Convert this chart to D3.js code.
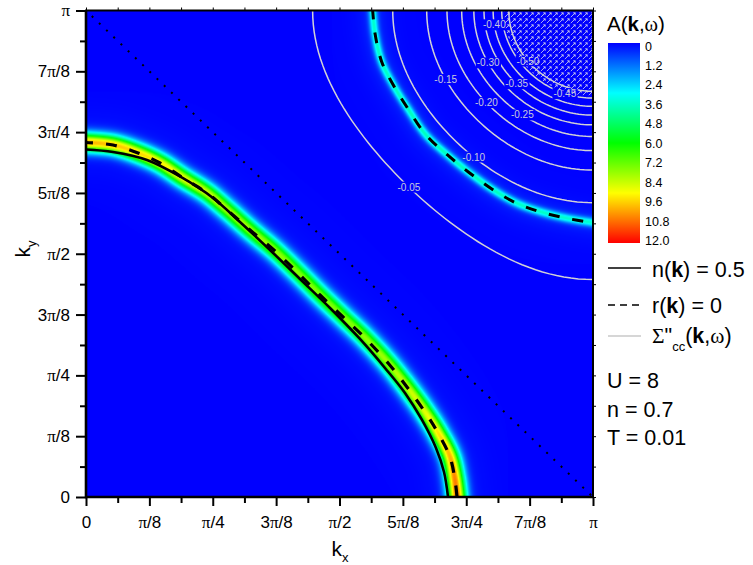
<!DOCTYPE html>
<html><head><meta charset="utf-8">
<script src="https://cdn.jsdelivr.net/npm/d3@7"></script>
<style>
body{margin:0;background:#fff}
svg{display:block}
text{font-family:Arial,"Liberation Sans",sans-serif;fill:#000}
</style>
</head><body>
<svg id="chart" width="753" height="565"></svg>
<script>
// ---------------- DATA (k in units of pi) ----------------
const tickValues = [0, 0.125, 0.25, 0.375, 0.5, 0.625, 0.75, 0.875, 1];
const minorTickValues = [0.0625, 0.1875, 0.3125, 0.4375, 0.5625, 0.6875, 0.8125, 0.9375];
const xTickLabels = ["0", "π/8", "π/4", "3π/8", "π/2", "5π/8", "3π/4", "7π/8", "π"];
const yTickLabels = ["0", "π/8", "π/4", "3π/8", "π/2", "5π/8", "3π/4", "7π/8", "π"];

// n(k) = 0.5 line
const fermiSolid = [
  [0, 0.7143], [0.0533, 0.7091], [0.1203, 0.6927], [0.1854, 0.6588], [0.2505, 0.6146],
  [0.3037, 0.5653], [0.3629, 0.5077], [0.4221, 0.4481], [0.4813, 0.3885], [0.5404, 0.3248],
  [0.5897, 0.2652], [0.6292, 0.2138], [0.6627, 0.1583], [0.6903, 0.1007], [0.7061, 0.0514],
  [0.7140, 0]
];
// r(k) = 0 line, main band (spectral ridge)
const ridgeMain = [
  [0, 0.7287], [0.0533, 0.7235], [0.1026, 0.7071], [0.1460, 0.6865], [0.1913, 0.6557],
  [0.2387, 0.6249], [0.2742, 0.5940], [0.3235, 0.5488], [0.3728, 0.5057], [0.4181, 0.4604],
  [0.4615, 0.4152], [0.5069, 0.3700], [0.5503, 0.3268], [0.5957, 0.2754], [0.6331, 0.2261],
  [0.6686, 0.1747], [0.6943, 0.1316], [0.7179, 0.0822], [0.7278, 0.0349], [0.7318, 0]
];
// peak A(k,w) along the main ridge
const ridgeMainPeak = [9.2, 9.0, 8.8, 8.5, 8.2, 7.8, 7.4, 7.2, 7.0, 6.8,
                       6.8, 6.8, 7.0, 7.2, 7.6, 8.0, 8.6, 9.2, 9.8, 10.0];
// r(k) = 0 line, shadow band near (pi,pi)
const ridgeShadow = [
  [0.5655, 1.0], [0.5700, 0.9531], [0.5832, 0.8947], [0.6061, 0.8468], [0.6325, 0.8022],
  [0.6706, 0.7441], [0.7130, 0.7030], [0.7554, 0.6670], [0.8034, 0.6310], [0.8495, 0.6037],
  [0.8955, 0.5864], [0.9481, 0.5728], [1.0, 0.5638]
];
const ridgeShadowPeak = [3.0, 3.0, 3.1, 3.1, 3.2, 3.2, 3.2, 3.2, 3.2, 3.1, 3.1, 3.0, 3.0];

// Sigma''cc contours: level, distance of the contour from (pi,pi) along the edge, label angle
const contourLevels = ["-0.05", "-0.10", "-0.15", "-0.20", "-0.25", "-0.30", "-0.35", "-0.40", "-0.45", "-0.50"];
const contourEdgeCut = [0.553, 0.395, 0.328, 0.288, 0.259, 0.235, 0.215, 0.197, 0.180, 0.166];
const contourLabelAngle = [45, 52, 26, 42, 57, 27.5, 45, 8.6, 72, 39];
const hatchEdgeCut = 0.176;

const colorbarTicks = ["0", "1.2", "2.4", "3.6", "4.8", "6.0", "7.2", "8.4", "9.6", "10.8", "12.0"];
const colorStops = [0, 3, 6, 9, 12];
const colorStopColors = ["#0000ff", "#00ffff", "#00ff00", "#ffff00", "#ff0000"];
const paramLabels = ["U = 8", "n = 0.7", "T = 0.01"];

// ---------------- CHART ----------------
const svg = d3.select("#chart");
svg.append("rect").attr("width", 753).attr("height", 565).attr("fill", "#fff");

const x = d3.scaleLinear().domain([0, 1]).range([86, 593]);
const y = d3.scaleLinear().domain([0, 1]).range([497, 10.5]);
const color = d3.scaleLinear().domain(colorStops).range(colorStopColors).clamp(true);

const defs = svg.append("defs");
defs.append("clipPath").attr("id", "plotClip").append("rect")
  .attr("x", x(0)).attr("y", y(1)).attr("width", x(1) - x(0)).attr("height", y(0) - y(1));

const X0 = x(0), Y0 = y(1);
const W = Math.round(x(1) - x(0)), H = Math.round(y(0) - y(1));

const plot = svg.append("g").attr("clip-path", "url(#plotClip)");
const heatImg = plot.append("image").attr("x", X0).attr("y", Y0)
  .attr("width", x(1) - x(0)).attr("height", y(0) - y(1))
  .attr("preserveAspectRatio", "none");

const line = d3.line().x(d => x(d[0])).y(d => y(d[1])).curve(d3.curveCatmullRom.alpha(0.5));

// contour geometry (iso-line through the given edge cut)
function contourPoints(a) {
  const C = 1 + Math.cos(a * Math.PI);
  const pts = [];
  for (let deg = 0; deg <= 90.001; deg += 1.5) pts.push(polarPoint(C, deg));
  return pts;
}
function polarPoint(C, deg) {
  const phi = deg * Math.PI / 180;
  let lo = 0, hi = 1.2;
  for (let k = 0; k < 40; k++) {
    const m = (lo + hi) / 2;
    const f = Math.cos(m * Math.cos(phi) * Math.PI) + Math.cos(m * Math.sin(phi) * Math.PI) - C;
    if (f > 0) lo = m; else hi = m;
  }
  const r = (lo + hi) / 2;
  return [1 - r * Math.cos(phi), 1 - r * Math.sin(phi)];
}

// hatch region near (pi,pi)
const pat = defs.append("pattern").attr("id", "hatch").attr("patternUnits", "userSpaceOnUse")
  .attr("width", 6).attr("height", 6);
pat.append("path").attr("d", "M0.8,5.2 L5.2,0.8 M3.2,0.8 L5.2,0.8 L5.2,2.8")
  .attr("stroke", "#d8d8e8").attr("stroke-width", 0.8).attr("fill", "none");
const hatchPts = contourPoints(hatchEdgeCut).concat([[1.02, 1.02]]);
plot.append("path").attr("d", d3.line().x(d => x(d[0])).y(d => y(d[1]))(hatchPts) + "Z")
  .attr("fill", "url(#hatch)");

// contour labels + mask
const mask = defs.append("mask").attr("id", "labelMask").attr("maskUnits", "userSpaceOnUse");
mask.append("rect").attr("x", 0).attr("y", 0).attr("width", 753).attr("height", 565).attr("fill", "#fff");
const contourG = plot.append("g").attr("mask", "url(#labelMask)");
const labelG = plot.append("g");
contourLevels.forEach((lev, i) => {
  const a = contourEdgeCut[i];
  contourG.append("path").attr("d", d3.line().x(d => x(d[0])).y(d => y(d[1]))(contourPoints(a)))
    .attr("fill", "none").attr("stroke", "#d2d2d6").attr("stroke-width", 1.5);
  const p = polarPoint(1 + Math.cos(a * Math.PI), contourLabelAngle[i]);
  const t = labelG.append("text").attr("x", x(p[0])).attr("y", y(p[1]))
    .attr("text-anchor", "middle").attr("dominant-baseline", "central")
    .attr("font-size", 10).style("fill", "#c9c9dc").text(lev);
  const bb = t.node().getBBox();
  mask.append("rect").attr("x", bb.x - 1).attr("y", bb.y).attr("width", bb.width + 2)
    .attr("height", bb.height).attr("fill", "#000");
});

// lines
const mainPath = plot.append("path").datum(ridgeMain).attr("d", line)
  .attr("fill", "none").attr("stroke", "#000").attr("stroke-width", 3.2)
  .attr("stroke-dasharray", "11,13").attr("stroke-dashoffset", 4);
const shadowPath = plot.append("path").datum(ridgeShadow).attr("d", line)
  .attr("fill", "none").attr("stroke", "#000").attr("stroke-width", 3)
  .attr("stroke-dasharray", "11,13").attr("stroke-dashoffset", 2);
plot.append("path").datum(fermiSolid).attr("d", line)
  .attr("fill", "none").attr("stroke", "#000").attr("stroke-width", 2.6);
plot.append("line").attr("x1", x(0)).attr("y1", y(1)).attr("x2", x(1)).attr("y2", y(0))
  .attr("stroke", "#000").attr("stroke-width", 2).attr("stroke-dasharray", "2,8").attr("stroke-dashoffset", -8);

// ---------- heatmap built from the ridges ----------
function stamp(node, verts, peaks, R) {
  const total = node.getTotalLength();
  const vp = verts.map(p => [x(p[0]), y(p[1])]);
  const cum = [0];
  for (let i = 1; i < vp.length; i++) cum.push(cum[i - 1] + Math.hypot(vp[i][0] - vp[i - 1][0], vp[i][1] - vp[i - 1][1]));
  const peakAt = d3.scaleLinear().domain(cum.map(c => c / cum[cum.length - 1])).range(peaks);
  const dist = new Float32Array(W * H).fill(1e9);
  const pk = new Float32Array(W * H);
  for (let s = 0; s <= total; s += 0.8) {
    const p = node.getPointAtLength(s);
    const pv = peakAt(s / total);
    const cx = p.x - X0, cy = p.y - Y0;
    const i0 = Math.max(0, Math.floor(cx - R)), i1 = Math.min(W - 1, Math.ceil(cx + R));
    const j0 = Math.max(0, Math.floor(cy - R)), j1 = Math.min(H - 1, Math.ceil(cy + R));
    for (let j = j0; j <= j1; j++) {
      const dy = j + 0.5 - cy;
      for (let i = i0; i <= i1; i++) {
        const dx = i + 0.5 - cx;
        const d2 = dx * dx + dy * dy;
        const idx = j * W + i;
        if (d2 < dist[idx]) { dist[idx] = d2; pk[idx] = pv; }
      }
    }
  }
  return { dist, pk };
}
const sm = stamp(mainPath.node(), ridgeMain, ridgeMainPeak, 50);
const ss = stamp(shadowPath.node(), ridgeShadow, ridgeShadowPeak, 40);
const lut = d3.range(0, 1201).map(i => d3.rgb(color(i / 100)));
const canvas = document.createElement("canvas");
canvas.width = W; canvas.height = H;
const ctx = canvas.getContext("2d");
const img = ctx.createImageData(W, H);
const sM = 6.6, gM = 12, tM = 0.7;
const sS = 3.0, gS = 9, tS = 0.6;
for (let idx = 0; idx < W * H; idx++) {
  const d1 = sm.dist[idx], d2 = ss.dist[idx];
  let v = 0;
  if (d1 < 1e8) v += sm.pk[idx] * Math.exp(-d1 / (2 * sM * sM)) + tM * gM * gM / (d1 + gM * gM);
  if (d2 < 1e8) v += ss.pk[idx] * Math.exp(-d2 / (2 * sS * sS)) + tS * gS * gS / (d2 + gS * gS);
  const c = lut[Math.max(0, Math.min(1200, Math.round(v * 100)))];
  img.data[idx * 4] = c.r; img.data[idx * 4 + 1] = c.g; img.data[idx * 4 + 2] = c.b; img.data[idx * 4 + 3] = 255;
}
ctx.putImageData(img, 0, 0);
heatImg.attr("href", canvas.toDataURL());

// ---------------- AXES ----------------
function piText(sel, label) {
  sel.text(null);
  const parts = label.split("π");
  parts.forEach((part, k) => {
    if (part) sel.append("tspan").text(part);
    if (k < parts.length - 1) sel.append("tspan").style("font-family", "'Liberation Serif','DejaVu Serif',serif").text("π");
  });
}
const gx = svg.append("g").attr("transform", `translate(0,${y(0)})`)
  .call(d3.axisBottom(x).tickValues(tickValues).tickSize(9).tickPadding(10).tickSizeOuter(0));
gx.select(".domain").remove();
gx.selectAll(".tick line").attr("stroke-width", 2);
gx.selectAll(".tick text").attr("font-size", 17).attr("font-family", "Arial,'Liberation Sans',sans-serif")
  .each(function (d, i) { piText(d3.select(this), xTickLabels[i]); });
const gxm = svg.append("g").attr("transform", `translate(0,${y(0)})`)
  .call(d3.axisBottom(x).tickValues(minorTickValues).tickSize(6).tickFormat("").tickSizeOuter(0));
gxm.select(".domain").remove();
gxm.selectAll(".tick line").attr("stroke-width", 2);

const gy = svg.append("g").attr("transform", `translate(${x(0)},0)`)
  .call(d3.axisLeft(y).tickValues(tickValues).tickSize(10).tickPadding(6).tickSizeOuter(0));
gy.select(".domain").remove();
gy.selectAll(".tick line").attr("stroke-width", 2);
gy.selectAll(".tick text").attr("font-size", 17).attr("font-family", "Arial,'Liberation Sans',sans-serif")
  .each(function (d, i) { piText(d3.select(this), yTickLabels[i]); });
const gym = svg.append("g").attr("transform", `translate(${x(0)},0)`)
  .call(d3.axisLeft(y).tickValues(minorTickValues).tickSize(6).tickFormat("").tickSizeOuter(0));
gym.select(".domain").remove();
gym.selectAll(".tick line").attr("stroke-width", 2);

// top & right small ticks
const allSmall = tickValues.concat(minorTickValues);
const gt = svg.append("g").attr("transform", `translate(0,${y(1)})`)
  .call(d3.axisTop(x).tickValues(allSmall).tickSize(3).tickFormat("").tickSizeOuter(0));
gt.select(".domain").remove();
gt.selectAll(".tick line").attr("stroke-width", 1);
const gr = svg.append("g").attr("transform", `translate(${x(1)},0)`)
  .call(d3.axisRight(y).tickValues(allSmall).tickSize(3).tickFormat("").tickSizeOuter(0));
gr.select(".domain").remove();
gr.selectAll(".tick line").attr("stroke-width", 1);

// frame
svg.append("rect").attr("x", x(0)).attr("y", y(1)).attr("width", x(1) - x(0)).attr("height", y(0) - y(1))
  .attr("fill", "none").attr("stroke", "#000").attr("stroke-width", 2);
svg.append("path").attr("d", `M${x(0)},${y(1)}V${y(0)}H${x(1)}`).attr("fill", "none")
  .attr("stroke", "#000").attr("stroke-width", 2.6);

// axis titles
const xt = svg.append("text").attr("x", 340).attr("y", 556).attr("text-anchor", "middle").attr("font-size", 21);
xt.append("tspan").text("k");
xt.append("tspan").attr("font-size", 13).attr("dy", 6).text("x");
const yt = svg.append("text").attr("transform", "translate(30,249) rotate(-90)").attr("text-anchor", "middle").attr("font-size", 21);
yt.append("tspan").text("k");
yt.append("tspan").attr("font-size", 13).attr("dy", 6).text("y");

// ---------------- COLORBAR ----------------
const grad = defs.append("linearGradient").attr("id", "cbGrad").attr("x1", 0).attr("y1", 0).attr("x2", 0).attr("y2", 1);
colorStops.forEach((v, i) => grad.append("stop").attr("offset", v / 12).attr("stop-color", colorStopColors[i]));
svg.append("rect").attr("x", 608).attr("y", 43).attr("width", 32).attr("height", 200).attr("fill", "url(#cbGrad)");
const cbY = d3.scaleLinear().domain([0, 12]).range([46, 240.7]);
svg.append("g").selectAll("text").data(colorbarTicks).join("text")
  .attr("x", 645).attr("y", d => cbY(+d)).attr("dy", "0.36em").attr("font-size", 12.5).text(d => d);
const ct = svg.append("text").attr("x", 607).attr("y", 30.5).attr("font-size", 20.5);
ct.append("tspan").text("A(");
ct.append("tspan").attr("font-weight", "bold").text("k");
ct.append("tspan").text(",");
ct.append("tspan").style("font-family", "'Liberation Serif','DejaVu Serif',serif").text("ω");
ct.append("tspan").text(")");

// ---------------- LEGEND ----------------
const lg = svg.append("g");
lg.append("line").attr("x1", 608).attr("x2", 641).attr("y1", 268).attr("y2", 268).attr("stroke", "#000").attr("stroke-width", 1.5);
lg.append("line").attr("x1", 608).attr("x2", 641).attr("y1", 305).attr("y2", 305).attr("stroke", "#000").attr("stroke-width", 1.5).attr("stroke-dasharray", "7,5");
lg.append("line").attr("x1", 608).attr("x2", 641).attr("y1", 336).attr("y2", 336).attr("stroke", "#c8c8c8").attr("stroke-width", 1.5);
const l1 = lg.append("text").attr("x", 652).attr("y", 277).attr("font-size", 21.5);
l1.append("tspan").text("n(");
l1.append("tspan").attr("font-weight", "bold").text("k");
l1.append("tspan").text(") = 0.5");
const l2 = lg.append("text").attr("x", 652).attr("y", 313).attr("font-size", 21.5);
l2.append("tspan").text("r(");
l2.append("tspan").attr("font-weight", "bold").text("k");
l2.append("tspan").text(") = 0");
const l3 = lg.append("text").attr("x", 652).attr("y", 343).attr("font-size", 21.5);
l3.append("tspan").style("font-family", "'Liberation Serif','DejaVu Serif',serif").text("Σ");
l3.append("tspan").text("\"");
l3.append("tspan").attr("font-size", 13).attr("dy", 8).text("cc");
l3.append("tspan").attr("dy", -8).text("(");
l3.append("tspan").attr("font-weight", "bold").text("k");
l3.append("tspan").text(",");
l3.append("tspan").style("font-family", "'Liberation Serif','DejaVu Serif',serif").text("ω");
l3.append("tspan").text(")");
const paramY = [388, 417, 445];
lg.selectAll("text.param").data(paramLabels).join("text").attr("class", "param")
  .attr("x", 607).attr("y", (d, i) => paramY[i]).attr("font-size", 21.5).text(d => d);
</script>
</body></html>
